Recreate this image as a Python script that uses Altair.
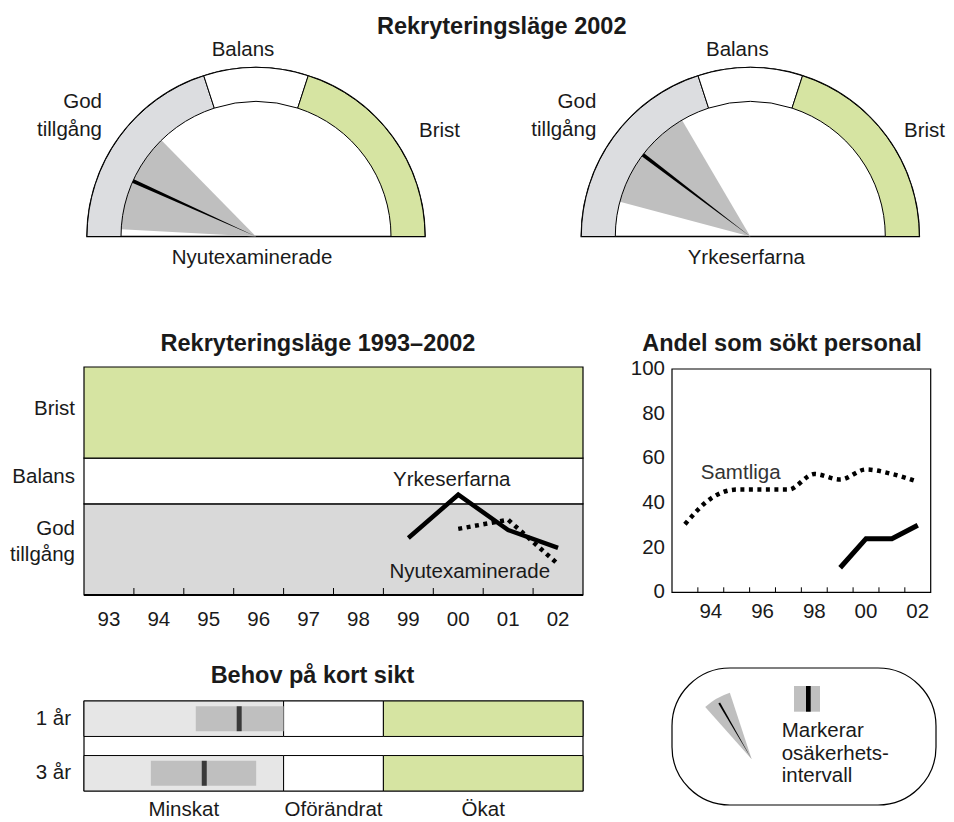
import math
import altair as alt
import pandas as pd

# ---------------- data ----------------
ZONES = ["God tillgång", "Balans", "Brist"]
ZONE_LABELS = ["God\ntillgång", "Balans", "Brist"]
ZONE_LO = [0, 40, 60]
ZONE_HI = [40, 60, 100]

GAUGE_NAMES = ["Nyutexaminerade", "Yrkeserfarna"]
GAUGE_VALUE = [13.5, 20.7]
GAUGE_LOW = [1.7, 8.3]
GAUGE_HIGH = [25.3, 33.1]

YEARS = ["93", "94", "95", "96", "97", "98", "99", "00", "01", "02"]
YRKES_YEARS = ["99", "00", "01", "02"]
YRKES_VALUES = [25, 44, 28.5, 20.7]
NYUT_YEARS = ["00", "01", "02"]
NYUT_VALUES = [29, 33, 13.5]

SAMTLIGA = [30.5, 42, 46, 46, 46, 53, 50.5, 55, 53, 49.5]
SOKT_YEARS = ["99", "00", "01", "02"]
SOKT_VALUES = [11, 24, 24, 30]
Y_TICKS = [0, 20, 40, 60, 80, 100]
X_LABEL_YEARS = ["94", "96", "98", "00", "02"]

HORIZONS = ["1 år", "3 år"]
NEED_LOW = [22.4, 13.4]
NEED_HIGH = [40.0, 34.5]
NEED_VALUE = [31.1, 24.1]
NEED_CATS = ["Minskat", "Oförändrat", "Ökat"]

LEGEND_WEDGE = [-41.6, -18.2]
LEGEND_NEEDLE = [-30.0]

# ---------------- style ----------------
FONT = "Liberation Sans"
TXT = "#1a1a1a"
FS = 20.5
TFS = 23.5
GREEN = "#d6e4a2"
GAUGE_COLORS = ["#dcdde0", "#ffffff", GREEN]
ML_COLORS = ["#d9d9d9", "#ffffff", GREEN]
BL_COLORS = ["#e6e6e6", "#ffffff", GREEN]
WEDGE = "#bfbfbf"

W, H = 938, 814

zones_df = pd.DataFrame({"zone": ZONES, "label": ZONE_LABELS, "lo": ZONE_LO, "hi": ZONE_HI})
gauge_df = pd.DataFrame({"gauge": GAUGE_NAMES, "value": GAUGE_VALUE,
                         "low": GAUGE_LOW, "high": GAUGE_HIGH})
full_df = pd.DataFrame({"lo": [0], "hi": [100]})
one = pd.DataFrame({"k": [0]})

layers = []


def text_layer(txt, x, y, size=FS, bold=False, align="center", baseline="alphabetic", color=TXT, lh=None):
    kw = dict(font=FONT, fontSize=size, align=align, baseline=baseline, color=color,
              fontWeight="bold" if bold else "normal", lineBreak="\n")
    if lh:
        kw["lineHeight"] = lh
    return alt.Chart(one).mark_text(**kw).encode(
        x=alt.value(x), y=alt.value(y), text=alt.value(txt))


def zcolor(colors):
    return alt.Color("zone:N", scale=alt.Scale(domain=ZONES, range=colors), legend=None)


# ---------------- top: gauges ----------------
layers.append(text_layer("Rekryteringsläge 2002", 493.7, 26, size=TFS, bold=True))

TH = alt.Scale(domain=[0, 100], range=[-math.pi / 2, math.pi / 2])
R_OUT, R_IN, G_CY = 169, 135, 228.5
G_CX = [248, 742.3]


def th(field):
    return alt.Theta(field, scale=TH, stack=None)


for i, cx in enumerate(G_CX):
    pos = dict(x=alt.value(cx), y=alt.value(G_CY))
    disk = alt.Chart(full_df).mark_arc(radius=R_OUT, fill="white", stroke="black",
                                       strokeWidth=1.6).encode(
        theta=th("lo:Q"), theta2="hi:Q", **pos)
    g = alt.Chart(gauge_df).transform_filter(alt.datum.gauge == GAUGE_NAMES[i])
    wedge = g.mark_arc(radius=R_IN, fill=WEDGE, strokeWidth=0).encode(
        theta=th("low:Q"), theta2="high:Q", **pos)
    ring = alt.Chart(zones_df).mark_arc(radius=R_OUT, radius2=R_IN, stroke="black",
                                        strokeWidth=1).encode(
        theta=th("lo:Q"), theta2="hi:Q", color=zcolor(GAUGE_COLORS), **pos)
    needle = g.transform_calculate(t0="datum.value - 0.45", t1="datum.value + 0.45").mark_arc(
        radius=R_IN, fill="black").encode(theta=th("t0:Q"), theta2="t1:Q", **pos)
    name = g.mark_text(font=FONT, fontSize=FS, color=TXT, align="center").encode(
        x=alt.value(cx - 4), y=alt.value(249.5), text="gauge:N")
    zl = alt.Chart(zones_df)
    bal = zl.transform_filter(alt.datum.zone == "Balans").mark_text(
        font=FONT, fontSize=FS, color=TXT, align="center").encode(
        x=alt.value(cx - 13), y=alt.value(42), text="label:N")
    god = zl.transform_filter(alt.datum.zone == "God tillgång").mark_text(
        font=FONT, fontSize=FS, color=TXT, align="right", lineBreak="\n", lineHeight=28).encode(
        x=alt.value(cx - 154), y=alt.value(94), text="label:N")
    if i == 0:
        bri = zl.transform_filter(alt.datum.zone == "Brist").mark_text(
            font=FONT, fontSize=FS, color=TXT, align="left").encode(
            x=alt.value(cx + 163), y=alt.value(123), text="label:N")
    else:
        bri = zl.transform_filter(alt.datum.zone == "Brist").mark_text(
            font=FONT, fontSize=FS, color=TXT, align="right").encode(
            x=alt.value(W - 1), y=alt.value(123), text="label:N")
    layers += [disk, wedge, ring, needle, name, bal, god, bri]

# ---------------- middle left: Rekryteringsläge 1993-2002 ----------------
ML_X = [76, 575]
ML_Y = [587, 359]
ml_x = alt.Scale(type="band", domain=YEARS, range=ML_X, paddingInner=0, paddingOuter=0)
ml_y = alt.Scale(domain=[0, 100], range=ML_Y)

layers.append(text_layer("Rekryteringsläge 1993–2002", 310, 342.5, size=TFS, bold=True))

layers.append(alt.Chart(zones_df).mark_rect(stroke="black", strokeWidth=1.2).encode(
    x=alt.value(ML_X[0]), x2=alt.value(ML_X[1]),
    y=alt.Y("lo:Q", scale=ml_y, axis=None), y2="hi:Q", color=zcolor(ML_COLORS)))
layers.append(alt.Chart(one).mark_rule(stroke="black", strokeWidth=2).encode(
    x=alt.value(ML_X[0]), x2=alt.value(ML_X[1]), y=alt.value(ML_Y[0])))

ml_lab = alt.Chart(zones_df).transform_calculate(mid="(datum.lo + datum.hi) / 2")
layers.append(ml_lab.transform_filter(alt.datum.zone != "God tillgång").mark_text(
    font=FONT, fontSize=FS, color=TXT, align="right", dy=-4).encode(
    x=alt.value(67), y=alt.Y("mid:Q", scale=ml_y, axis=None), text="label:N"))
layers.append(ml_lab.transform_filter(alt.datum.zone == "God tillgång").mark_text(
    font=FONT, fontSize=FS, color=TXT, align="right", lineBreak="\n", lineHeight=26, dy=-20).encode(
    x=alt.value(67), y=alt.Y("mid:Q", scale=ml_y, axis=None), text="label:N"))

years_df = pd.DataFrame({"year": YEARS})
layers.append(alt.Chart(years_df).transform_filter(alt.datum.year != "93").mark_rule(
    stroke="black", strokeWidth=1).encode(
    x=alt.X("year:O", scale=ml_x, bandPosition=0, axis=None),
    y=alt.value(ML_Y[0]), y2=alt.value(ML_Y[0] - 7)))
layers.append(alt.Chart(years_df).mark_text(font=FONT, fontSize=FS, color=TXT).encode(
    x=alt.X("year:O", scale=ml_x, bandPosition=0.5, axis=None),
    y=alt.value(611.5), text="year:N"))

yrkes_df = pd.DataFrame({"year": YRKES_YEARS, "value": YRKES_VALUES,
                         "ord": list(range(len(YRKES_YEARS)))})
nyut_df = pd.DataFrame({"year": NYUT_YEARS, "value": NYUT_VALUES,
                        "ord": list(range(len(NYUT_YEARS)))})
layers.append(alt.Chart(yrkes_df).mark_line(color="black", strokeWidth=4.5).encode(
    x=alt.X("year:O", scale=ml_x, bandPosition=0.5, axis=None),
    y=alt.Y("value:Q", scale=ml_y, axis=None), order="ord:Q"))
layers.append(alt.Chart(nyut_df).mark_line(color="black", strokeWidth=4.5,
                                           strokeDash=[4, 4.5]).encode(
    x=alt.X("year:O", scale=ml_x, bandPosition=0.5, axis=None),
    y=alt.Y("value:Q", scale=ml_y, axis=None), order="ord:Q"))
layers.append(alt.Chart(yrkes_df).transform_filter(alt.datum.year == "00").mark_text(
    font=FONT, fontSize=FS, color=TXT, align="center", dx=-6.5, dy=-15).encode(
    x=alt.X("year:O", scale=ml_x, bandPosition=0.5, axis=None),
    y=alt.Y("value:Q", scale=ml_y, axis=None), text=alt.value("Yrkeserfarna")))
layers.append(alt.Chart(nyut_df).transform_filter(alt.datum.year == "02").mark_text(
    font=FONT, fontSize=FS, color=TXT, align="right", dx=-8, dy=8).encode(
    x=alt.X("year:O", scale=ml_x, bandPosition=0.5, axis=None),
    y=alt.Y("value:Q", scale=ml_y, axis=None), text=alt.value("Nyutexaminerade")))

# ---------------- middle right: Andel som sökt personal ----------------
MR_X = [664, 922.7]
MR_Y = [584.3, 361]
mr_x = alt.Scale(type="band", domain=YEARS, range=MR_X, paddingInner=0, paddingOuter=0)
mr_y = alt.Scale(domain=[0, 100], range=MR_Y)

layers.append(text_layer("Andel som sökt personal", 774, 342.5, size=TFS, bold=True))
layers.append(alt.Chart(one).mark_rect(filled=False, stroke="black", strokeWidth=1.2).encode(
    x=alt.value(MR_X[0]), x2=alt.value(MR_X[1]), y=alt.value(MR_Y[1]), y2=alt.value(MR_Y[0])))
layers.append(alt.Chart(years_df).transform_filter(alt.datum.year != "93").mark_rule(
    stroke="black", strokeWidth=1).encode(
    x=alt.X("year:O", scale=mr_x, bandPosition=0, axis=None),
    y=alt.value(MR_Y[0]), y2=alt.value(MR_Y[0] - 5)))
layers.append(alt.Chart(pd.DataFrame({"year": X_LABEL_YEARS})).mark_text(
    font=FONT, fontSize=FS, color=TXT).encode(
    x=alt.X("year:O", scale=mr_x, bandPosition=0.5, axis=None),
    y=alt.value(603.5), text="year:N"))
layers.append(alt.Chart(pd.DataFrame({"v": Y_TICKS})).mark_text(
    font=FONT, fontSize=FS, color=TXT, align="right", baseline="middle").encode(
    x=alt.value(657), y=alt.Y("v:Q", scale=mr_y, axis=None), text="v:Q"))

sam_df = pd.DataFrame({"year": YEARS, "value": SAMTLIGA, "ord": list(range(len(YEARS)))})
sokt_df = pd.DataFrame({"year": SOKT_YEARS, "value": SOKT_VALUES,
                        "ord": list(range(len(SOKT_YEARS)))})
layers.append(alt.Chart(sam_df).mark_line(color="black", strokeWidth=4.5, strokeDash=[4, 4.5],
                                          interpolate="monotone").encode(
    x=alt.X("year:O", scale=mr_x, bandPosition=0.5, axis=None),
    y=alt.Y("value:Q", scale=mr_y, axis=None), order="ord:Q"))
layers.append(alt.Chart(sokt_df).mark_line(color="black", strokeWidth=5).encode(
    x=alt.X("year:O", scale=mr_x, bandPosition=0.5, axis=None),
    y=alt.Y("value:Q", scale=mr_y, axis=None), order="ord:Q"))
layers.append(alt.Chart(sam_df).transform_filter(alt.datum.year == "95").mark_text(
    font=FONT, fontSize=FS, color="#333333", align="center", dx=4, dy=-17).encode(
    x=alt.X("year:O", scale=mr_x, bandPosition=0.5, axis=None),
    y=alt.Y("value:Q", scale=mr_y, axis=None), text=alt.value("Samtliga")))

# ---------------- bottom left: Behov på kort sikt ----------------
BL_X = [76, 575]
BL_Y = [693, 783]
bl_x = alt.Scale(domain=[0, 100], range=BL_X)
bl_y = alt.Scale(type="band", domain=HORIZONS, range=BL_Y, paddingInner=0.35, paddingOuter=0)

layers.append(text_layer("Behov på kort sikt", 304.5, 675.3, size=TFS, bold=True))
layers.append(alt.Chart(one).mark_rect(fill="white", stroke="black", strokeWidth=1.2).encode(
    x=alt.value(BL_X[0]), x2=alt.value(BL_X[1]), y=alt.value(BL_Y[0]), y2=alt.value(BL_Y[1])))

cells = pd.DataFrame({"horizon": HORIZONS}).merge(zones_df, how="cross")
layers.append(alt.Chart(cells).mark_rect(stroke="black", strokeWidth=1).encode(
    x=alt.X("lo:Q", scale=bl_x, axis=None), x2="hi:Q",
    y=alt.Y("horizon:N", scale=bl_y, axis=None), color=zcolor(BL_COLORS)))
need_df = pd.DataFrame({"horizon": HORIZONS, "low": NEED_LOW, "high": NEED_HIGH,
                        "value": NEED_VALUE})
layers.append(alt.Chart(need_df).mark_bar(size=25, color=WEDGE).encode(
    x=alt.X("low:Q", scale=bl_x, axis=None), x2="high:Q",
    y=alt.Y("horizon:N", scale=bl_y, axis=None)))
layers.append(alt.Chart(need_df).mark_tick(size=25, thickness=5, color="black").encode(
    x=alt.X("value:Q", scale=bl_x, axis=None),
    y=alt.Y("horizon:N", scale=bl_y, axis=None)))
layers.append(alt.Chart(need_df).mark_text(font=FONT, fontSize=FS, color=TXT, align="right",
                                           baseline="middle").encode(
    x=alt.value(63), y=alt.Y("horizon:N", scale=bl_y, bandPosition=0.5, axis=None),
    text="horizon:N"))
cats_df = pd.DataFrame({"cat": NEED_CATS, "lo": ZONE_LO, "hi": ZONE_HI})
layers.append(alt.Chart(cats_df).transform_calculate(mid="(datum.lo + datum.hi) / 2").mark_text(
    font=FONT, fontSize=FS, color=TXT, align="center").encode(
    x=alt.X("mid:Q", scale=bl_x, axis=None), y=alt.value(802), text="cat:N"))

# ---------------- bottom right: legend box ----------------
layers.append(alt.Chart(one).mark_rect(filled=False, stroke="black", strokeWidth=1.2,
                                       cornerRadius=58).encode(
    x=alt.value(664), x2=alt.value(928), y=alt.value(660), y2=alt.value(797)))
LTH = alt.Scale(domain=[-180, 180], range=[-math.pi, math.pi])
lpos = dict(x=alt.value(743.7), y=alt.value(751.3))
layers.append(alt.Chart(pd.DataFrame({"lo": [LEGEND_WEDGE[0]], "hi": [LEGEND_WEDGE[1]]})).mark_arc(
    radius=70, fill=WEDGE).encode(
    theta=alt.Theta("lo:Q", scale=LTH, stack=None), theta2="hi:Q", **lpos))
layers.append(alt.Chart(pd.DataFrame({"v": LEGEND_NEEDLE})).transform_calculate(
    t0="datum.v - 0.9", t1="datum.v + 0.9").mark_arc(radius=65, fill="black").encode(
    theta=alt.Theta("t0:Q", scale=LTH, stack=None), theta2="t1:Q", **lpos))
layers.append(alt.Chart(one).mark_rect(color=WEDGE).encode(
    x=alt.value(786), x2=alt.value(812), y=alt.value(678), y2=alt.value(703.7)))
layers.append(alt.Chart(one).mark_rect(color="black").encode(
    x=alt.value(798), x2=alt.value(802.7), y=alt.value(678), y2=alt.value(703.7)))
layers.append(text_layer("Markerar\nosäkerhets-\nintervall", 773.7, 729.3, align="left", lh=22.3))

chart = alt.layer(*layers).resolve_scale(
    x="independent", y="independent", theta="independent", color="independent"
).properties(width=W, height=H, padding=0, autosize="none").configure_view(stroke=None)

chart.save("out.html", embed_options={"renderer": "svg", "actions": False})
